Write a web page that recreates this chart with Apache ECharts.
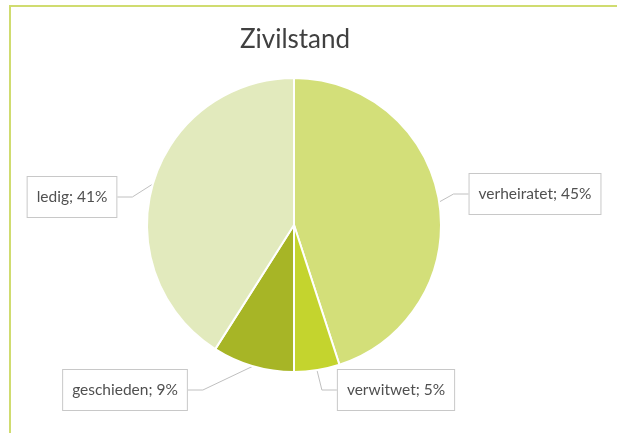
<!DOCTYPE html>
<html>
<head>
<meta charset="utf-8">
<script src="https://cdn.jsdelivr.net/npm/echarts@6/dist/echarts.min.js"></script>
<style>
html,body{margin:0;padding:0;background:#fff;}
#chart{width:617px;height:433px;}
</style>
</head>
<body>
<div id="chart"></div>
<script>
const categories = ['verheiratet', 'verwitwet', 'geschieden', 'ledig'];
const values = [45, 5, 9, 41];
const colors = ['#d3df79', '#c4d42e', '#a7b526', '#e2eabd'];
const labelCenters = [[535, 194], [396, 390], [125, 390], [72, 197]];

const chart = echarts.init(document.getElementById('chart'), null, {renderer: 'canvas'});
chart.setOption({
  backgroundColor: '#ffffff',
  animation: false,
  title: {
    text: 'Zivilstand',
    left: 290, top: 22, textAlign: 'center',
    textStyle: {fontFamily: 'Lato', fontSize: 26, fontWeight: 'normal', color: '#404040'}
  },
  graphic: [
    {type: 'line', shape: {x1: 9, y1: 6, x2: 617, y2: 6}, style: {stroke: '#d0dc70', lineWidth: 2}},
    {type: 'line', shape: {x1: 10, y1: 5, x2: 10, y2: 433}, style: {stroke: '#d0dc70', lineWidth: 2}}
  ],
  series: [{
    type: 'pie',
    center: [294, 225],
    radius: 147,
    startAngle: 90,
    clockwise: true,
    data: categories.map((c, i) => ({name: c, value: values[i], itemStyle: {color: colors[i]}})),
    itemStyle: {borderColor: '#ffffff', borderWidth: 2},
    label: {
      show: true,
      formatter: '{b}; {c}%',
      overflow: 'none',
      edgeDistance: 0,
      fontFamily: 'Lato', fontSize: 15.5, color: '#505050',
      backgroundColor: '#ffffff', borderColor: '#c8c8c8', borderWidth: 1,
      padding: [12, 9, 12, 9]
    },
    labelLine: {show: true, length: 15, length2: 15, lineStyle: {color: '#c0c0c0', width: 1}},
    labelLayout: function (p) {
      const c = labelCenters[p.dataIndex];
      return {x: c[0], y: c[1], align: 'center', verticalAlign: 'middle'};
    },
    emphasis: {disabled: true}
  }]
});
</script>
</body>
</html>
